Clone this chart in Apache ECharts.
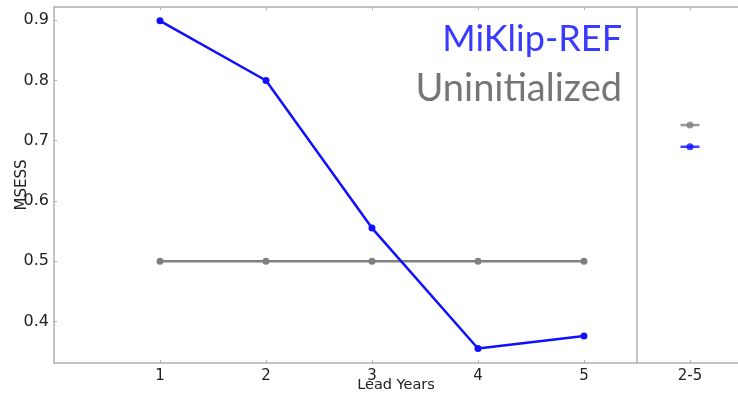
<!DOCTYPE html>
<html>
<head>
<meta charset="utf-8">
<script src="https://cdn.jsdelivr.net/npm/echarts@6/dist/echarts.min.js"></script>
<style>
  html, body { margin: 0; padding: 0; background: #fff; }
  #chart { width: 738px; height: 395px; }
</style>
</head>
<body>
<div id="chart"></div>
<script>
// lead years 1..5, then the 2-5 mean at position 6
const leadYears = [1, 2, 3, 4, 5]
const xTickValues = [1, 2, 3, 4, 5, 6]
const xTickLabels = ['1', '2', '3', '4', '5', '2-5']
const yTickValues = [0.4, 0.5, 0.6, 0.7, 0.8, 0.9]

const miklipRef = [0.899, 0.80, 0.555, 0.355, 0.376]
const uninitialized = [0.5, 0.5, 0.5, 0.5, 0.5]

const meanPos = 6
const miklipMean = 0.69
const uninitMean = 0.726

const BLUE = '#1010ff'
const GREY = '#808080'
const AXIS = '#b0b0b0'

const chart = echarts.init(document.getElementById('chart'))

const pair = (xs, ys) => xs.map((x, i) => [x, ys[i]])

const option = {
  animation: false,
  grid: { left: 54, right: 0, top: 7, bottom: 32, outerBoundsMode: 'none', containLabel: false },
  xAxis: [
    {
      type: 'value',
      min: 0,
      max: 6.453,
      name: 'Lead Years',
      nameLocation: 'middle',
      nameGap: 15,
      nameMoveOverlap: false,
      nameTextStyle: { color: '#222', fontSize: 14.5, fontFamily: 'DejaVu Sans' },
      axisLine: { show: true, lineStyle: { color: AXIS, width: 1.5 } },
      axisTick: { show: true, inside: true, length: 3, customValues: xTickValues, lineStyle: { color: AXIS } },
      axisLabel: {
        customValues: xTickValues,
        formatter: v => xTickLabels[xTickValues.indexOf(v)] || '',
        color: '#222',
        fontSize: 15,
        fontFamily: 'DejaVu Sans',
        margin: 6
      },
      splitLine: { show: false }
    },
    {
      type: 'value',
      position: 'top',
      min: 0,
      max: 6.453,
      axisLine: { show: true, lineStyle: { color: AXIS, width: 1.5 } },
      axisTick: { show: true, inside: true, length: 3, customValues: xTickValues, lineStyle: { color: AXIS } },
      axisLabel: { show: false },
      splitLine: { show: false }
    }
  ],
  yAxis: {
    type: 'value',
    min: 0.331,
    max: 0.922,
    name: 'MSESS',
    nameLocation: 'middle',
    nameRotate: 90,
    nameGap: 24,
    nameMoveOverlap: false,
    nameTextStyle: { color: '#222', fontSize: 15, fontFamily: 'DejaVu Sans' },
    axisLine: { show: true, lineStyle: { color: AXIS, width: 1.5 } },
    axisTick: { show: true, inside: true, length: 3, customValues: yTickValues, lineStyle: { color: AXIS } },
    axisLabel: {
      customValues: yTickValues,
      formatter: v => v.toFixed(1),
      color: '#222',
      fontSize: 16,
      fontFamily: 'DejaVu Sans',
      margin: 5
    },
    splitLine: { show: false }
  },
  series: [
    {
      name: 'Uninitialized',
      type: 'line',
      data: pair(leadYears, uninitialized),
      symbol: 'circle',
      symbolSize: 7,
      lineStyle: { color: GREY, width: 2.5 },
      itemStyle: { color: GREY },
      markLine: {
        silent: true,
        symbol: 'none',
        label: { show: false },
        lineStyle: { color: AXIS, width: 1.5, type: 'solid' },
        data: [{ xAxis: 5.5 }]
      }
    },
    {
      name: 'MiKlip-REF',
      type: 'line',
      data: pair(leadYears, miklipRef),
      symbol: 'circle',
      symbolSize: 7,
      lineStyle: { color: BLUE, width: 2.5 },
      itemStyle: { color: BLUE }
    },
    {
      type: 'scatter',
      data: [[meanPos, uninitMean]],
      symbol: 'rect',
      symbolSize: [19, 2.5],
      itemStyle: { color: GREY }
    },
    {
      type: 'scatter',
      data: [[meanPos, uninitMean]],
      symbol: 'circle',
      symbolSize: 7,
      itemStyle: { color: GREY }
    },
    {
      type: 'scatter',
      data: [[meanPos, miklipMean]],
      symbol: 'rect',
      symbolSize: [19, 2.5],
      itemStyle: { color: BLUE }
    },
    {
      type: 'scatter',
      data: [[meanPos, miklipMean]],
      symbol: 'circle',
      symbolSize: 7,
      itemStyle: { color: BLUE }
    }
  ],
  graphic: [
    {
      type: 'text',
      right: 116,
      top: 21,
      style: { text: 'MiKlip-REF', fill: '#3a3aff', font: '36px Lato' }
    },
    {
      type: 'text',
      right: 116,
      top: 70,
      style: { text: 'Uninitialized', fill: '#767676', font: '38px Lato' }
    }
  ]
}

chart.setOption(option)
</script>
</body>
</html>
